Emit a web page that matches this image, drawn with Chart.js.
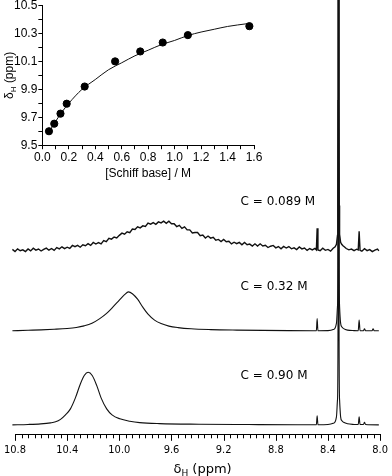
<!DOCTYPE html>
<html>
<head>
<meta charset="utf-8">
<script src="https://cdn.jsdelivr.net/npm/chart.js@4.4.0/dist/chart.umd.min.js"></script>
<style>
  body { margin: 0; background: #fff; }
  #wrap { position: relative; width: 392px; height: 476px; }
  #main, #inset { position: absolute; left: 0; top: 0; }
</style>
</head>
<body>
<div id="wrap">
  <canvas id="main" width="392" height="476"></canvas>
  <canvas id="inset" width="270" height="182"></canvas>
</div>
<script>
// --- spectra: [shift (ppm), intensity above own baseline] ---
const trace089 = [
  [10.82,0.9],[10.80,-1.2],[10.78,1.5],[10.76,-0.4],[10.74,0.5],[10.72,-1.3],[10.70,1.4],[10.68,-0.6],
  [10.66,2.1],[10.64,0.2],[10.62,1.3],[10.60,-0.7],[10.58,1.0],[10.56,2.2],[10.54,0.1],[10.52,1.8],
  [10.50,-0.1],[10.48,2.7],[10.46,1.5],[10.44,3.5],[10.42,1.7],[10.40,3.1],[10.38,1.9],[10.36,4.9],
  [10.34,3.6],[10.32,4.9],[10.30,3.1],[10.28,5.5],[10.26,4.6],[10.24,6.6],[10.22,4.9],[10.20,7.9],
  [10.18,6.3],[10.16,7.7],[10.14,6.5],[10.12,9.8],[10.10,8.7],[10.08,12.1],[10.06,11.2],[10.04,13.3],
  [10.02,12.4],[10.00,15.0],[9.98,17.2],[9.96,16.1],[9.94,18.6],[9.92,17.6],[9.90,21.3],[9.88,20.9],
  [9.86,23.6],[9.84,22.5],[9.82,24.5],[9.80,23.9],[9.78,27.3],[9.76,26.2],[9.74,27.8],[9.72,26.1],
  [9.70,28.5],[9.68,27.5],[9.66,29.2],[9.64,27.0],[9.62,29.2],[9.60,26.6],[9.58,26.7],[9.56,23.8],
  [9.54,25.1],[9.52,22.0],[9.50,23.5],[9.48,20.5],[9.46,20.5],[9.44,17.4],[9.42,17.8],[9.40,17.8],
  [9.38,14.6],[9.36,15.3],[9.34,12.4],[9.32,14.3],[9.30,12.2],[9.28,13.1],[9.26,10.2],[9.24,10.9],
  [9.22,8.8],[9.20,10.9],[9.18,8.6],[9.16,9.1],[9.14,6.4],[9.12,8.1],[9.10,6.6],[9.08,7.9],
  [9.06,5.5],[9.04,7.9],[9.02,5.6],[9.00,6.2],[8.98,4.2],[8.96,6.5],[8.94,4.2],[8.92,6.5],
  [8.90,4.3],[8.88,5.0],[8.86,2.8],[8.84,4.1],[8.82,4.9],[8.80,2.5],[8.78,3.8],[8.76,1.5],
  [8.74,3.9],[8.72,2.3],[8.70,3.8],[8.68,1.5],[8.66,2.5],[8.64,0.8],[8.62,3.3],[8.60,1.4],
  [8.58,2.3],[8.56,-0.1],[8.54,1.8],[8.52,0.4],[8.50,1.9],
  [8.489,0.5],[8.483,22],[8.477,0.3],
  [8.46,-0.4],[8.44,2.1],[8.42,0],[8.40,0.9],[8.38,-0.8],[8.36,2.1],
  [8.345,3.5],[8.335,6],[8.327,15],[8.324,45],[8.322,150],[8.3205,600],[8.3175,600],[8.316,150],
  [8.314,45],[8.311,16],[8.303,8],[8.295,6],[8.285,4.5],[8.275,3.5],
  [8.26,1.8],[8.24,0.5],[8.22,1.2],[8.20,-0.3],[8.18,1.1],
  [8.168,0.4],[8.161,19],[8.154,0],
  [8.14,-0.9],[8.12,1.6],[8.10,-0.3],[8.08,0.7],[8.06,-1.3],[8.04,0.2],[8.02,1.2],[8.01,-0.5]
];
const trace032 = [
  [10.82,0.3],[10.70,0.8],[10.60,1.2],[10.50,1.8],[10.40,2.6],[10.33,3.6],[10.27,5.2],[10.21,7.8],
  [10.15,12.5],[10.10,17.5],[10.05,24],[10.00,31],[9.96,36.5],[9.93,39.3],[9.90,37.5],[9.86,32],
  [9.82,24],[9.78,17],[9.73,11],[9.68,7.5],[9.62,5],[9.55,3.5],[9.45,2.3],[9.30,1.5],
  [9.10,1.0],[8.90,0.7],[8.70,0.5],[8.50,0.4],
  [8.489,0.4],[8.483,12.5],[8.477,0.4],
  [8.40,0.5],[8.36,1.5],[8.345,3],[8.335,8],[8.327,25],[8.323,100],[8.3215,600],[8.3165,600],
  [8.315,100],[8.311,25],[8.303,8],[8.293,4],[8.28,2.5],[8.25,1.0],[8.20,0.5],
  [8.168,0.4],[8.161,11],[8.154,0.4],
  [8.128,0.4],[8.120,2.2],[8.112,0.4],
  [8.062,0.4],[8.054,2.3],[8.046,0.4],
  [8.01,0.3]
];
const trace090 = [
  [10.82,0],[10.70,0.4],[10.603,1],[10.527,2],[10.489,3],[10.451,5.5],[10.413,10],[10.375,16],
  [10.337,27],[10.299,41],[10.269,49.5],[10.239,52.7],[10.208,49.5],[10.173,39.3],[10.140,27],[10.097,16],
  [10.056,10],[9.996,6],[9.92,3.6],[9.844,2.2],[9.692,1.2],[9.389,0.6],[9.009,0.3],[8.63,0.1],
  [8.489,0.1],[8.483,9],[8.477,0.1],
  [8.40,0.3],[8.36,1.5],[8.345,3],[8.335,8],[8.327,25],[8.323,100],[8.3215,700],[8.3165,700],
  [8.315,100],[8.311,25],[8.303,8],[8.293,4],[8.28,2.5],[8.25,1.0],[8.20,0.4],
  [8.168,0.3],[8.161,8],[8.154,0.3],
  [8.128,0.3],[8.120,2.5],[8.112,0.3],
  [8.01,0]
];
const traces = [trace089, trace032, trace090];
const traceBaselines = [175, 94, 0];
const traceLabels = ['C = 0.089 M', 'C = 0.32 M', 'C = 0.90 M'];
const labelHeights = [49, 44, 49];
const labelShift = 9.07;
const shiftTicks = [10.8, 10.4, 10.0, 9.6, 9.2, 8.8, 8.4, 8.0];

// --- inset: titration points and fitted curve ---
const schiffConc = [0.05, 0.09, 0.137, 0.184, 0.32, 0.55, 0.74, 0.91, 1.10, 1.565];
const schiffShift = [9.60, 9.654, 9.726, 9.797, 9.92, 10.10, 10.171, 10.235, 10.288, 10.352];
const fitConc = [0.05, 0.1, 0.15, 0.2, 0.3, 0.4, 0.5, 0.6, 0.7, 0.8, 0.9, 1.0, 1.1, 1.2, 1.3, 1.4, 1.55];
const fitShift = [9.595, 9.67, 9.74, 9.80, 9.90, 9.97, 10.04, 10.09, 10.14, 10.18, 10.22, 10.25, 10.285, 10.31, 10.33, 10.35, 10.37];

const mainFont = "'DejaVu Sans Condensed', 'DejaVu Sans', Verdana, sans-serif";
const insetFont = "'Liberation Sans', Arial, sans-serif";

function isMajorShift(v) {
  return shiftTicks.some(t => Math.abs(t - v) < 1e-6);
}

const mainDecor = {
  id: 'mainDecor',
  afterDraw(chart) {
    const ctx = chart.ctx;
    const xs = chart.scales.x, ys = chart.scales.y;
    ctx.save();
    // tick marks hanging below the axis
    ctx.strokeStyle = '#000';
    ctx.lineWidth = 1;
    ctx.beginPath();
    xs.ticks.forEach(t => {
      const px = Math.round(xs.getPixelForValue(t.value)) + 0.5;
      ctx.moveTo(px, xs.top);
      ctx.lineTo(px, xs.top + (isMajorShift(t.value) ? 6 : 3.5));
    });
    ctx.stroke();
    // concentration labels
    ctx.fillStyle = '#000';
    ctx.font = "12px 'DejaVu Sans'";
    ctx.textAlign = 'left';
    ctx.textBaseline = 'middle';
    traceLabels.forEach((txt, i) => {
      ctx.fillText(txt, xs.getPixelForValue(labelShift), ys.getPixelForValue(traceBaselines[i] + labelHeights[i]));
    });
    // axis title with subscript
    const cx = (xs.left + xs.right) / 2 + 5;
    const base = 473;
    ctx.font = "13px 'DejaVu Sans'";
    const w1 = ctx.measureText('δ').width;
    const w3 = ctx.measureText(' (ppm)').width;
    ctx.font = "9px 'DejaVu Sans'";
    const w2 = ctx.measureText('H').width;
    let x = cx - (w1 + w2 + w3) / 2;
    ctx.textBaseline = 'alphabetic';
    ctx.font = "13px 'DejaVu Sans'";
    ctx.fillText('δ', x, base);
    ctx.font = "9px 'DejaVu Sans'";
    ctx.fillText('H', x + w1, base + 3);
    ctx.font = "13px 'DejaVu Sans'";
    ctx.fillText(' (ppm)', x + w1 + w2, base);
    ctx.restore();
  }
};

new Chart(document.getElementById('main'), {
  type: 'line',
  data: {
    datasets: traces.map((tr, i) => ({
      data: tr.map(p => ({ x: p[0], y: p[1] + traceBaselines[i] })),
      borderColor: '#111',
      borderWidth: i === 0 ? 1.4 : 1.1,
      pointRadius: 0,
      fill: false,
      clip: false,
      cubicInterpolationMode: i === 0 ? 'default' : 'monotone',
      tension: 0
    }))
  },
  options: {
    responsive: false,
    animation: false,
    events: [],
    layout: { padding: { left: 14, right: 9, top: 0, bottom: 15 } },
    plugins: { legend: { display: false }, tooltip: { enabled: false } },
    scales: {
      x: {
        type: 'linear',
        reverse: true,
        min: 8.0,
        max: 10.8,
        grid: { display: false, drawTicks: true, tickLength: 5 },
        border: { display: true, color: '#000', width: 1 },
        ticks: {
          stepSize: 0.05,
          autoSkip: false,
          maxRotation: 0,
          minRotation: 0,
          padding: 4,
          color: '#000',
          font: { family: mainFont, size: 11 },
          callback: v => isMajorShift(v) ? v.toFixed(1) : ''
        }
      },
      y: { display: false, min: -10, max: 426 }
    }
  },
  plugins: [mainDecor]
});

const insetDecor = {
  id: 'insetDecor',
  afterDraw(chart) {
    const ctx = chart.ctx;
    const ys = chart.scales.y;
    ctx.save();
    ctx.fillStyle = '#000';
    ctx.translate(12.5, (ys.top + ys.bottom) / 2);
    ctx.rotate(-Math.PI / 2);
    ctx.font = "12px " + insetFont;
    const w1 = ctx.measureText('δ').width;
    const w3 = ctx.measureText(' (ppm)').width;
    ctx.font = "8px " + insetFont;
    const w2 = ctx.measureText('H').width;
    let x = -(w1 + w2 + w3) / 2;
    ctx.textBaseline = 'alphabetic';
    ctx.font = "12px " + insetFont;
    ctx.fillText('δ', x, 0);
    ctx.font = "8px " + insetFont;
    ctx.fillText('H', x + w1, 3);
    ctx.font = "12px " + insetFont;
    ctx.fillText(' (ppm)', x + w1 + w2, 0);
    ctx.restore();
  }
};

function evenTenth(v, start) {
  return Math.round((v - start) * 10) % 2 === 0;
}

new Chart(document.getElementById('inset'), {
  type: 'scatter',
  data: {
    datasets: [
      {
        data: schiffConc.map((c, i) => ({ x: c, y: schiffShift[i] })),
        backgroundColor: '#000',
        borderColor: '#000',
        pointRadius: 3.6
      },
      {
        type: 'line',
        data: fitConc.map((c, i) => ({ x: c, y: fitShift[i] })),
        borderColor: '#111',
        borderWidth: 1,
        pointRadius: 0,
        fill: false,
        cubicInterpolationMode: 'monotone'
      }
    ]
  },
  options: {
    responsive: false,
    animation: false,
    events: [],
    layout: { padding: { left: 13, right: 16, top: 0, bottom: 1 } },
    plugins: { legend: { display: false }, tooltip: { enabled: false } },
    scales: {
      x: {
        type: 'linear',
        min: 0,
        max: 1.6,
        grid: { drawOnChartArea: false, tickLength: 4, color: '#000' },
        border: { color: '#000', width: 1 },
        ticks: {
          stepSize: 0.1,
          autoSkip: false,
          maxRotation: 0,
          padding: 1,
          color: '#000',
          font: { family: insetFont, size: 12 },
          callback: v => evenTenth(v, 0) ? v.toFixed(1) : ''
        },
        title: {
          display: true,
          text: '[Schiff base] / M',
          color: '#000',
          font: { family: insetFont, size: 12 },
          padding: { top: 1, bottom: 0 }
        }
      },
      y: {
        type: 'linear',
        min: 9.5,
        max: 10.5,
        grid: { drawOnChartArea: false, tickLength: 4, color: '#000' },
        border: { color: '#000', width: 1 },
        ticks: {
          stepSize: 0.1,
          autoSkip: false,
          padding: 1,
          color: '#000',
          font: { family: insetFont, size: 12, lineHeight: 0.75 },
          callback: v => evenTenth(v, 9.5) ? v.toFixed(1) : ''
        }
      }
    }
  },
  plugins: [insetDecor]
});
</script>
</body>
</html>
